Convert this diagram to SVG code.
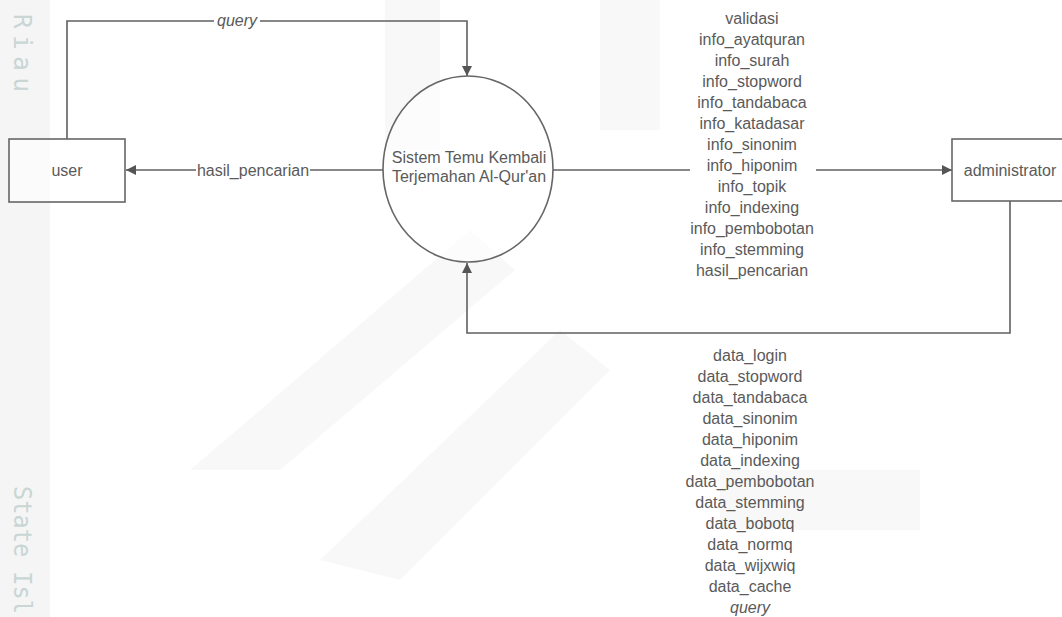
<svg xmlns="http://www.w3.org/2000/svg" width="1062" height="617" viewBox="0 0 1062 617">
  <defs>
    <marker id="arr" viewBox="0 0 10 10" refX="10" refY="5" markerWidth="10" markerHeight="10" markerUnits="userSpaceOnUse" orient="auto">
      <path d="M0,0 L10,5 L0,10 z" fill="#555"/>
    </marker>
  </defs>
  <style>
    .lbl { font-family: "Liberation Sans", Arial, sans-serif; font-size: 16px; fill: #5a5a5a; text-anchor: middle; }
    .it { font-style: italic; }
    .ln { fill: none; stroke: #606060; stroke-width: 1.6; }
    .box { fill: #ffffff; fill-opacity: 0.6; stroke: #666; stroke-width: 1.6; }
    .wm { font-family: "DejaVu Sans Mono", monospace; font-size: 24px; fill: #c9d6d4; }
    .bgs { fill: #f8f8f8; }
  </style>
  <rect x="0" y="0" width="1062" height="617" fill="#ffffff"/>
  <!-- faint watermark background -->
  <g id="watermark">
    <rect x="0" y="0" width="50" height="617" fill="#f5f5f5"/>
    <rect x="385" y="0" width="55" height="150" class="bgs"/>
    <rect x="600" y="0" width="60" height="130" class="bgs"/>
    <polygon points="190,470 470,230 515,270 280,470" class="bgs"/>
    <polygon points="320,560 560,330 610,370 400,580" class="bgs"/>
    <rect x="720" y="470" width="200" height="60" class="bgs"/>
    <text class="wm" transform="translate(14,14) rotate(90)" textLength="78" lengthAdjust="spacing">Riau</text>
    <text class="wm" transform="translate(14,486) rotate(90)" textLength="128" lengthAdjust="spacingAndGlyphs">State Isl</text>
  </g>
  <g id="connectors">
    <!-- query: user -> system -->
    <polyline class="ln" points="67,139 67,21 467,21 467,76" marker-end="url(#arr)"/>
    <rect x="214" y="13" width="46" height="16" fill="#fff"/>
    <text class="lbl it" x="237" y="26">query</text>
    <!-- hasil_pencarian: system -> user -->
    <line class="ln" x1="383" y1="170" x2="126" y2="170" marker-end="url(#arr)"/>
    <rect x="196" y="160" width="114" height="20" fill="#fff"/>
    <text class="lbl" x="253" y="176">hasil_pencarian</text>
    <!-- system -> administrator -->
    <line class="ln" x1="553" y1="170" x2="690" y2="170"/>
    <line class="ln" x1="816" y1="170" x2="952" y2="170" marker-end="url(#arr)"/>
    <g class="lbl">
      <text x="752" y="24">validasi</text>
      <text x="752" y="45">info_ayatquran</text>
      <text x="752" y="66">info_surah</text>
      <text x="752" y="87">info_stopword</text>
      <text x="752" y="108">info_tandabaca</text>
      <text x="752" y="129">info_katadasar</text>
      <text x="752" y="150">info_sinonim</text>
      <text x="752" y="171">info_hiponim</text>
      <text x="752" y="192">info_topik</text>
      <text x="752" y="213">info_indexing</text>
      <text x="752" y="234">info_pembobotan</text>
      <text x="752" y="255">info_stemming</text>
      <text x="752" y="276">hasil_pencarian</text>
    </g>
    <!-- administrator -> system -->
    <polyline class="ln" points="1010,201 1010,333 467,333 467,263" marker-end="url(#arr)"/>
    <g class="lbl">
      <text x="750" y="361">data_login</text>
      <text x="750" y="382">data_stopword</text>
      <text x="750" y="403">data_tandabaca</text>
      <text x="750" y="424">data_sinonim</text>
      <text x="750" y="445">data_hiponim</text>
      <text x="750" y="466">data_indexing</text>
      <text x="750" y="487">data_pembobotan</text>
      <text x="750" y="508">data_stemming</text>
      <text x="750" y="529">data_bobotq</text>
      <text x="750" y="550">data_normq</text>
      <text x="750" y="571">data_wijxwiq</text>
      <text x="750" y="592">data_cache</text>
      <text class="it" x="750" y="613">query</text>
    </g>
  </g>
  <g id="user">
    <rect class="box" x="9" y="139" width="116" height="63"/>
    <text class="lbl" x="67" y="176">user</text>
  </g>
  <g id="system">
    <ellipse class="box" cx="468" cy="169" rx="85" ry="93"/>
    <text class="lbl" x="469" y="163">Sistem Temu Kembali</text>
    <text class="lbl" x="469" y="182">Terjemahan Al-Qur'an</text>
  </g>
  <g id="administrator">
    <rect class="box" x="952" y="139" width="120" height="62"/>
    <text class="lbl" x="1010" y="176">administrator</text>
  </g>
</svg>
